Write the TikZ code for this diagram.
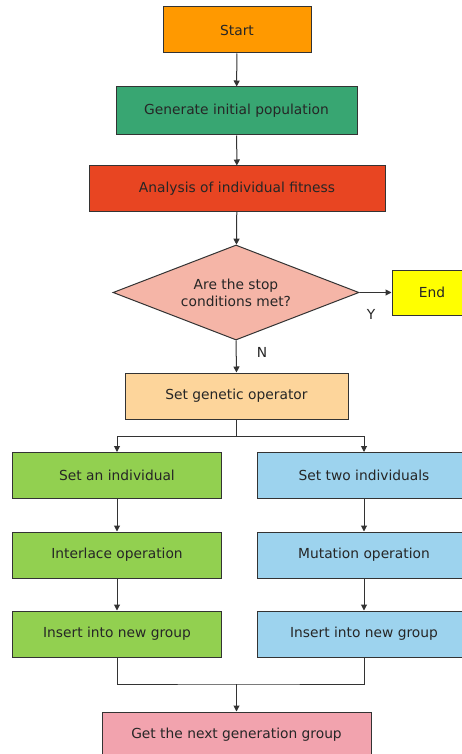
\documentclass[tikz,border=0pt]{standalone}
\usepackage{fontspec}
\setmainfont{DejaVu Sans}
\usetikzlibrary{shapes.geometric,arrows.meta}
\definecolor{cStart}{HTML}{FF9900}
\definecolor{cGen}{HTML}{38A672}
\definecolor{cAna}{HTML}{E84522}
\definecolor{cDia}{HTML}{F5B5A7}
\definecolor{cEnd}{HTML}{FFFF00}
\definecolor{cSgo}{HTML}{FDD59B}
\definecolor{cGreen}{HTML}{92D050}
\definecolor{cBlue}{HTML}{9DD3EE}
\definecolor{cLast}{HTML}{F2A3AE}
\definecolor{cLine}{HTML}{333333}
\begin{document}
\begin{tikzpicture}[x=1pt,y=-1pt,
  box/.style={draw=cLine,line width=1pt,rectangle,inner sep=0pt,minimum height=46pt,font=\fontsize{13.8}{16}\selectfont,text=black!85},
  conn/.style={draw=cLine,line width=1pt},
  arr/.style={conn,-{Triangle[length=6pt,width=6pt]}},
  lbl/.style={font=\fontsize{13.8}{16}\selectfont,text=black!85}]
\clip (0,0) rectangle (462,754);
\fill[white] (0,0) rectangle (462,754);
\node[box,fill=cStart,minimum width=148pt] (start) at (237,30) {Start};
\node[box,fill=cGen,minimum width=241pt,minimum height=48pt] (gen) at (236.5,111) {Generate initial population};
\node[box,fill=cAna,minimum width=296pt,minimum height=45pt] (ana) at (237,188.5) {Analysis of individual fitness};
\node[draw=cLine,line width=1pt,diamond,fill=cDia,aspect=2.59,minimum width=246pt,minimum height=95pt,inner sep=0pt,align=center,font=\fontsize{13.8}{17}\selectfont,text=black!85] (dia) at (236,292.5) {Are the stop\\conditions met?};
\node[box,fill=cEnd,minimum width=80pt,minimum height=45pt] (end) at (432,292.5) {End};
\node[box,fill=cSgo,minimum width=223pt] (sgo) at (236.5,396) {Set genetic operator};
\coordinate (split) at (236.5,436);
\node[box,fill=cGreen,minimum width=209pt] (l1) at (117,475.5) {Set an individual};
\node[box,fill=cGreen,minimum width=209pt] (l2) at (117,555) {Interlace operation};
\node[box,fill=cGreen,minimum width=209pt] (l3) at (117,634) {Insert into new group};
\node[box,fill=cBlue,minimum width=214pt] (r1) at (364,475.5) {Set two individuals};
\node[box,fill=cBlue,minimum width=214pt] (r2) at (364,555) {Mutation operation};
\node[box,fill=cBlue,minimum width=214pt] (r3) at (364,634) {Insert into new group};
\coordinate (merge) at (236.5,684);
\node[box,fill=cLast,minimum width=269pt] (last) at (236.5,735) {Get the next generation group};
\draw[arr] (start) -- (gen);
\draw[arr] (gen) -- (ana);
\draw[arr] (ana) -- (dia);
\draw[arr] (dia.east) -- (end.west);
\node[lbl] (y) at (371,314) {Y};
\draw[arr] (dia.south) -- (sgo.north);
\node[lbl] (n) at (262,352) {N};
\draw[conn] (sgo) -- (split);
\draw[arr] (split) -| (l1.north);
\draw[arr] (split) -| (r1.north);
\draw[arr] (l1) -- (l2);
\draw[arr] (l2) -- (l3);
\draw[arr] (r1) -- (r2);
\draw[arr] (r2) -- (r3);
\draw[conn] (l3.south) |- (merge) -| (r3.south);
\draw[arr] (merge) -- (last);
\end{tikzpicture}
\end{document}
